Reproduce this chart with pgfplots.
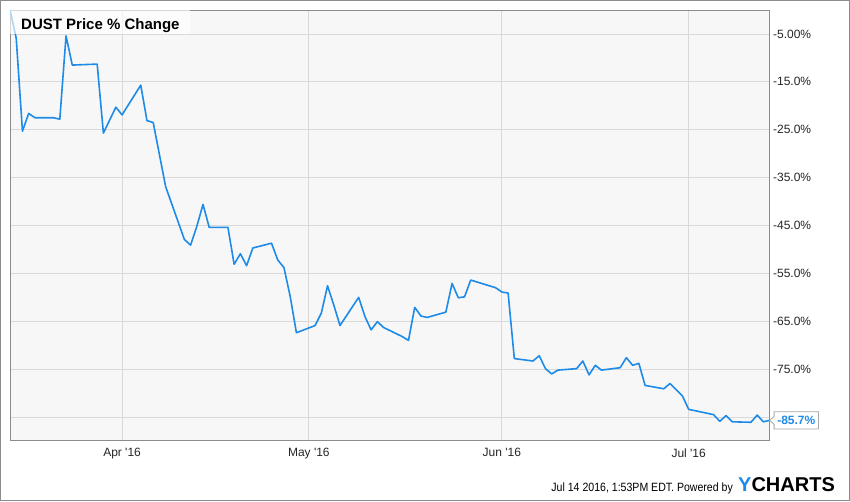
\documentclass[border=0pt]{standalone}
\usepackage{pgfplots}
\pgfplotsset{compat=1.18}
\usepackage{fontspec}
\setmainfont{Liberation Sans}
\definecolor{lineblue}{RGB}{30,139,232}
\definecolor{plotbg}{RGB}{247,247,247}
\definecolor{gridc}{RGB}{217,217,217}
\definecolor{framec}{RGB}{140,140,140}
\pgfplotstableread{
day pct
0 0
1 -5.9
2 -25.3
3 -21.6
4 -22.5
7 -22.5
8 -22.8
9 -5.4
10 -11.5
14 -11.3
15 -25.7
17 -20.3
18 -21.9
21 -15.7
22 -23.1
23 -23.5
25 -36.9
28 -47.9
29 -49.1
30 -45.2
31 -40.6
32 -45.4
35 -45.4
36 -53.1
37 -50.9
38 -53.4
39 -49.7
42 -48.7
43 -52.2
44 -53.8
45 -59.8
46 -67.4
49 -65.9
50 -63.3
51 -57.6
52 -61.6
53 -65.9
56 -60.0
57 -64.0
58 -66.8
59 -65.1
60 -66.3
63 -68.2
64 -69.0
65 -62.1
66 -63.9
67 -64.2
70 -63.1
71 -57.1
72 -60.1
73 -59.9
74 -56.4
78 -58.0
79 -58.9
80 -59.1
81 -72.8
84 -73.3
85 -72.2
86 -74.9
87 -76.0
88 -75.2
91 -74.9
92 -73.3
93 -76.2
94 -74.2
95 -75.2
98 -74.7
99 -72.6
100 -74.2
101 -73.8
102 -78.4
105 -79.1
106 -78.0
107 -79.3
108 -80.6
109 -83.4
113 -84.5
114 -85.9
115 -84.7
116 -86.0
119 -86.1
120 -84.6
121 -86.0
122 -85.7
}\dust
\begin{document}
\begin{tikzpicture}[x=1pt,y=1pt]
\useasboundingbox (0,0) rectangle (850,501);
\fill[white] (0,0) rectangle (850,501);
\draw[framec, line width=1pt] (0.5,0.5) rectangle (849.5,500.5);
\begin{axis}[
  at={(10pt,61pt)}, anchor=south west, scale only axis,
  width=759.6pt, height=430pt,
  xmin=0, xmax=122, ymin=-89.8, ymax=0,
  axis background/.style={fill=plotbg},
  axis line style={framec, line width=1pt},
  grid=major, grid style={gridc, line width=0.8pt},
  major tick length=0pt,
  xtick={18,48,79,109},
  xticklabels={Apr \textquotesingle16, May \textquotesingle16, Jun \textquotesingle16, Jul \textquotesingle16},
  xticklabel style={yshift=-5pt},
  ytick={-5,-15,-25,-35,-45,-55,-65,-75,-85},
  yticklabels={-5.00\%,-15.0\%,-25.0\%,-35.0\%,-45.0\%,-55.0\%,-65.0\%,-75.0\%,{}},
  yticklabel pos=right,
  tick label style={font=\fontsize{12}{14}\selectfont, text=black!85},
]
\addplot[lineblue, line width=1.6pt, line join=round] table[x=day, y=pct] {\dust};
\coordinate (endpt) at (axis cs:122,-85.7);
\fill[white, fill opacity=0.65] (rel axis cs:0,1) rectangle ++(180pt,-24pt);
\node[anchor=base west, inner sep=0pt, font=\bfseries\fontsize{15}{15}\selectfont] at ([xshift=11pt,yshift=-19pt]rel axis cs:0,1) {DUST Price \% Change};
\end{axis}
\node[anchor=west, inner xsep=3pt, inner ysep=0pt, minimum height=17pt, font=\bfseries\fontsize{12}{12}\selectfont] (c) at ([xshift=4.5pt]endpt) {\phantom{-85.7\%}};
\filldraw[fill=white, draw=gray!70, line width=0.8pt] (c.north west) -- (c.north east) -- (c.south east) -- (c.south west) -- ([yshift=-4pt]c.west) -- ([xshift=-4.5pt]c.west) -- ([yshift=4pt]c.west) -- cycle;
\node[font=\bfseries\fontsize{12}{12}\selectfont, text=lineblue] at (c) {-85.7\%};
\node[anchor=base east, inner sep=0pt, xscale=0.88, font=\fontsize{12}{12}\selectfont] at (733,10) {Jul 14 2016, 1:53PM EDT. Powered by};
\node[anchor=base west, inner sep=0pt, font=\bfseries\fontsize{20}{20}\selectfont] at (738,9.5) {\textcolor{lineblue}{Y}CHARTS};
\end{tikzpicture}
\end{document}
